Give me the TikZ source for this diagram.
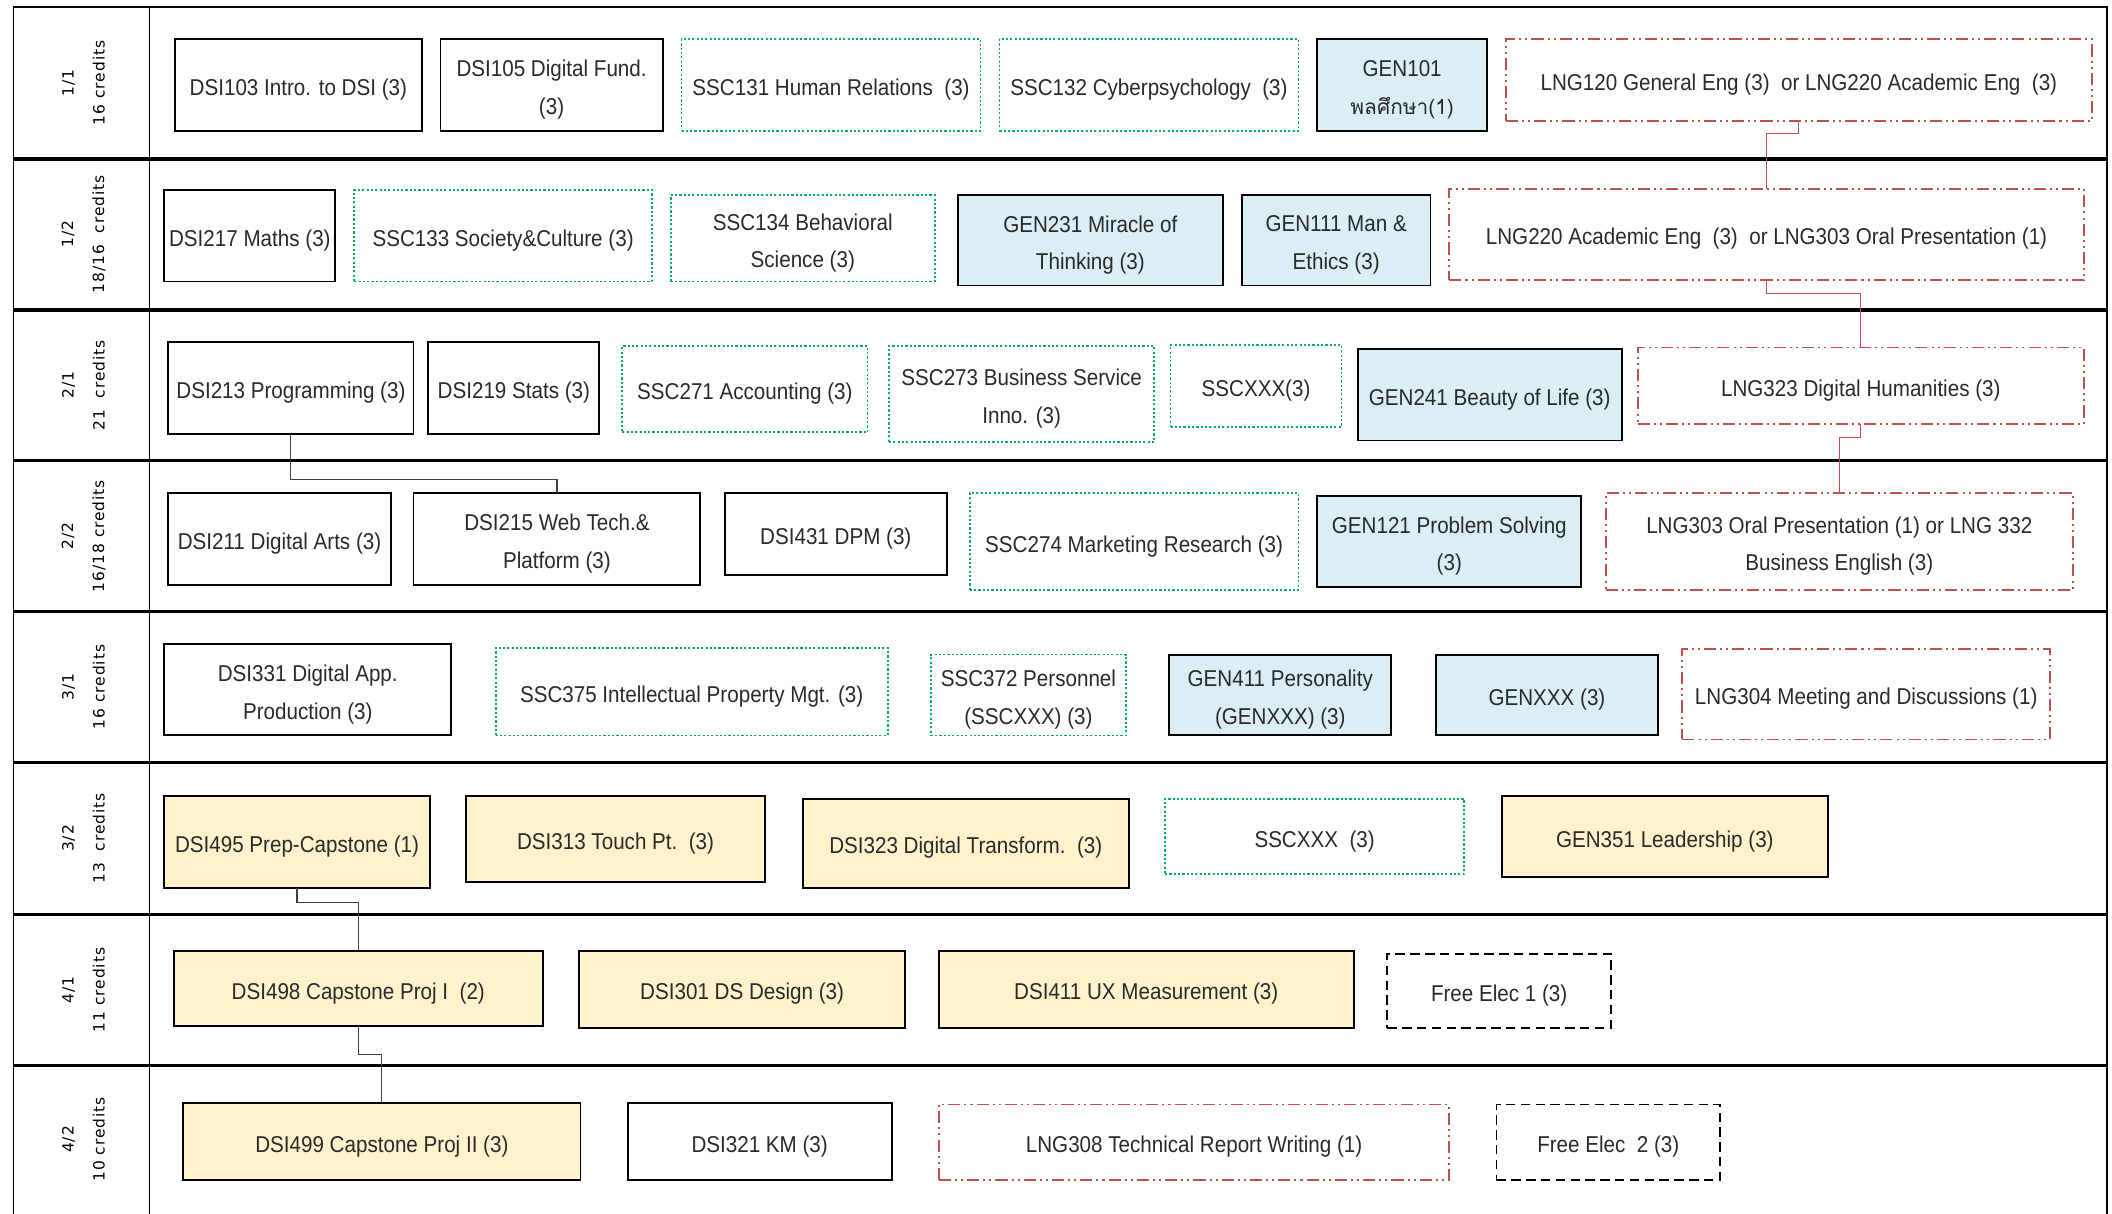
\documentclass[tikz,border=0pt]{standalone}
\usepackage{fontspec}
\setmainfont[FakeStretch=0.9]{Liberation Sans}
\newfontfamily\thaifont[Script=Thai]{Loma}
\newfontfamily\labfont[LetterSpace=6]{DejaVu Sans}
\definecolor{genblue}{HTML}{DAEEF3}
\definecolor{capyellow}{HTML}{FFF2CC}
\definecolor{sscgreen}{HTML}{00B050}
\definecolor{lngred}{HTML}{C0504D}
\definecolor{txt}{HTML}{2A2A2A}
\newcommand\nl{\\[7.5pt]}
% course box: style, name, x1, y1, x2, y2, text
\newcommand\cb[7]{\node[#1, minimum width={#5-#3}, minimum height={#6-#4},
  label={[yshift=-3.5pt]center:{#7}}] (#2) at ({(#3+#5)/2},{(#4+#6)/2}) {};}
\tikzset{
  every node/.style={inner sep=0pt, outer sep=0pt, align=center, text=txt,
    font=\fontsize{17}{20.5}\selectfont},
  solidbox/.style={draw=black, line width=1.4pt, fill=white},
  dsibox/.style={solidbox},
  genbox/.style={solidbox, fill=genblue},
  capbox/.style={solidbox, fill=capyellow},
  sscbox/.style={draw=sscgreen, line width=1.3pt, dash pattern=on 1.6pt off 1.6pt},
  lngbox/.style={draw=lngred, line width=1.4pt, dash pattern=on 9pt off 3pt on 1.5pt off 3pt on 1.5pt off 3pt},
  freebox/.style={draw=black, line width=1.4pt, dash pattern=on 7pt off 4pt},
  rowlab/.style={rotate=90, font=\labfont\fontsize{11.5}{23}\selectfont, text=black},
  frameline/.style={draw=black, line width=1.3pt},
  rowline/.style={draw=black, line width=2.6pt},
  conn/.style={draw=black!75, line width=0.8pt},
  lngconn/.style={draw=lngred, line width=0.8pt}
}
\begin{document}
\begin{tikzpicture}[x=1pt,y=-1pt]
\useasboundingbox (0,0) rectangle (1568,901);
% frame
\draw[frameline] (10,901) -- (10,5) -- (1564,5) -- (1564,901);
\draw[frameline] (111,5) -- (111,901);
\foreach \yy in {118,230,342,454,566,679,791} {
  \draw[rowline] (10,\yy) -- (1564,\yy);
}
% row labels
\node[rowlab] (l11) at (62,61.5) {1/1\\16 credits};
\node[rowlab] (l12) at (62,174) {1/2\\18/16\ \ credits};
\node[rowlab] (l21) at (62,286) {2/1\\21\ \ credits};
\node[rowlab] (l22) at (62,398) {2/2\\16/18 credits};
\node[rowlab] (l31) at (62,510) {3/1\\16 credits};
\node[rowlab] (l32) at (62,622.5) {3/2\\13\ \ credits};
\node[rowlab] (l41) at (62,735) {4/1\\11 credits};
\node[rowlab] (l42) at (62,846) {4/2\\10 credits};
% Row 1
\cb{dsibox}{dsi103}{130}{29}{313}{97}{DSI103 Intro. to DSI (3)}
\cb{dsibox}{dsi105}{327}{29}{492}{97}{DSI105 Digital Fund.\nl(3)}
\cb{sscbox}{ssc131}{506}{29}{728}{97}{SSC131 Human Relations\ \ (3)}
\cb{sscbox}{ssc132}{742}{29}{964}{97}{SSC132 Cyberpsychology\ \ (3)}
\cb{genbox}{gen101}{978}{29}{1104}{97}{GEN101\nl{\thaifont\fontsize{15.5}{18}\selectfont พลศึกษา(1)}}
\cb{lngbox}{lng120}{1118}{29}{1553}{90}{LNG120 General Eng (3)\ \ or LNG220 Academic Eng\ \ (3)}
% Row 2
\cb{dsibox}{dsi217}{122}{141}{249}{209}{DSI217 Maths (3)}
\cb{sscbox}{ssc133}{263}{141}{484}{209}{SSC133 Society\&Culture (3)}
\cb{sscbox}{ssc134}{498}{145}{694}{209}{SSC134 Behavioral\nl Science (3)}
\cb{genbox}{gen231}{711}{145}{908}{212}{GEN231 Miracle of\nl Thinking (3)}
\cb{genbox}{gen111}{922}{145}{1062}{212}{GEN111 Man \&\nl Ethics (3)}
\cb{lngbox}{lng220}{1076}{140}{1547}{208}{LNG220 Academic Eng\ \ (3)\ \ or LNG303 Oral Presentation (1)}
% Row 3
\cb{dsibox}{dsi213}{125}{254}{307}{322}{DSI213 Programming (3)}
\cb{dsibox}{dsi219}{318}{254}{445}{322}{DSI219 Stats (3)}
\cb{sscbox}{ssc271}{462}{257}{644}{321}{SSC271 Accounting (3)}
\cb{sscbox}{ssc273}{660}{257}{857}{328}{SSC273 Business Service\nl Inno. (3)}
\cb{sscbox}{sscxxxa}{869}{256}{996}{317}{SSCXXX(3)}
\cb{genbox}{gen241}{1008}{259}{1204}{327}{GEN241 Beauty of Life (3)}
\cb{lngbox}{lng323}{1216}{258}{1547}{315}{LNG323 Digital Humanities (3)}
% Row 4
\cb{dsibox}{dsi211}{125}{366}{290}{434}{DSI211 Digital Arts (3)}
\cb{dsibox}{dsi215}{307}{366}{520}{434}{DSI215 Web Tech.\&\nl Platform (3)}
\cb{dsibox}{dsi431}{538}{366}{703}{427}{DSI431 DPM (3)}
\cb{sscbox}{ssc274}{720}{366}{964}{438}{SSC274 Marketing Research (3)}
\cb{genbox}{gen121}{978}{368}{1174}{436}{GEN121 Problem Solving\nl(3)}
\cb{lngbox}{lng303}{1192}{366}{1539}{438}{LNG303 Oral Presentation (1) or LNG 332\nl Business English (3)}
% Row 5
\cb{dsibox}{dsi331}{122}{478}{335}{546}{DSI331 Digital App.\nl Production (3)}
\cb{sscbox}{ssc375}{368}{481}{659}{546}{SSC375 Intellectual Property Mgt. (3)}
\cb{sscbox}{ssc372}{691}{486}{836}{546}{SSC372 Personnel\nl(SSCXXX) (3)}
\cb{genbox}{gen411}{868}{486}{1033}{546}{GEN411 Personality\nl(GENXXX) (3)}
\cb{genbox}{genxxx}{1066}{486}{1231}{546}{GENXXX (3)}
\cb{lngbox}{lng304}{1249}{482}{1522}{549}{LNG304 Meeting and Discussions (1)}
% Row 6
\cb{capbox}{dsi495}{122}{591}{319}{659}{DSI495 Prep-Capstone (1)}
\cb{capbox}{dsi313}{346}{591}{568}{655}{DSI313 Touch Pt.\ \ (3)}
\cb{capbox}{dsi323}{596}{593}{838}{659}{DSI323 Digital Transform.\ \ (3)}
\cb{sscbox}{sscxxxb}{865}{593}{1087}{649}{SSCXXX\ \ (3)}
\cb{capbox}{gen351}{1115}{591}{1357}{651}{GEN351 Leadership (3)}
% Row 7
\cb{capbox}{dsi498}{129}{706}{403}{762}{DSI498 Capstone Proj I\ \ (2)}
\cb{capbox}{dsi301}{430}{706}{672}{763}{DSI301 DS Design (3)}
\cb{capbox}{dsi411}{697}{706}{1005}{763}{DSI411 UX Measurement (3)}
\cb{freebox}{free1}{1030}{708}{1196}{763}{Free Elec 1 (3)}
% Row 8
\cb{capbox}{dsi499}{136}{819}{431}{876}{DSI499 Capstone Proj II (3)}
\cb{dsibox}{dsi321}{466}{819}{662}{876}{DSI321 KM (3)}
\cb{lngbox}{lng308}{697}{820}{1076}{876}{LNG308 Technical Report Writing (1)}
\cb{freebox}{free2}{1111}{820}{1277}{876}{Free Elec\ \ 2 (3)}
% connectors
\draw[lngconn] (lng120.south) -- ++(0,9) -| (lng220.north);
\draw[lngconn] (lng220.south) -- ++(0,10) -| (lng323.north);
\draw[lngconn] (lng323.south) -- ++(0,10) -| (lng303.north);
\draw[conn] (dsi213.south) -- ++(0,34) -| (dsi215.north);
\draw[conn] (dsi495.south) -- ++(0,11) -| (dsi498.north);
\draw[conn] (dsi498.south) -- ++(0,21) -| (dsi499.north);
\end{tikzpicture}
\end{document}
